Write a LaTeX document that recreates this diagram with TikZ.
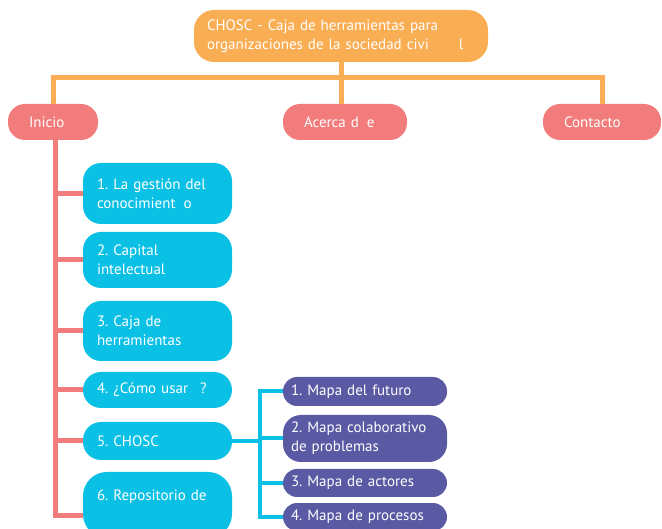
\documentclass[tikz,border=0pt]{standalone}
\usepackage{fontspec}
\setmainfont{PT Sans}
\frenchspacing
\definecolor{chorange}{HTML}{FAAE54}
\definecolor{chpink}{HTML}{F27B7B}
\definecolor{chcyan}{HTML}{0BC0E5}
\definecolor{chpurple}{HTML}{5A59A4}
\begin{document}
\begin{tikzpicture}[x=1pt,y=-1pt,
  every node/.style={font=\fontsize{15}{19}\selectfont,text=white,align=left,inner ysep=0pt},
  toptag/.style={fill=chorange,rounded corners=20pt,inner xsep=13pt,text width=268pt,minimum height=52pt},
  menutag/.style={fill=chpink,rounded corners=17pt,inner xsep=21pt,minimum height=36pt},
  pagetag/.style={fill=chcyan,rounded corners=18pt,inner xsep=14pt,text width=121pt},
  subtag/.style={fill=chpurple,rounded corners=14pt,inner xsep=8pt,text width=148pt},
  orangeline/.style={draw=chorange,line width=5pt},
  pinkline/.style={draw=chpink,line width=5pt},
  cyanline/.style={draw=chcyan,line width=4pt}]
\useasboundingbox (0,0) rectangle (662,529);
\clip (0,0) rectangle (662,529);

% top and menu
\node[toptag] (chosc) at (341,36) {CHOSC - Caja de herramientas para\\organizaciones de la sociedad civi\hspace{30pt}l};
\node[menutag,text width=48pt] (inicio) at (53,122) {Inicio};
\node[menutag,text width=82pt] (acerca) at (345,122) {Acerca d\hspace{8pt}e};
\node[menutag,text width=76pt] (contacto) at (602,122) {Contacto};

% pages under Inicio
\node[pagetag,minimum height=61pt] (p1) at (157.5,193.5) {1. La gestión del\\conocimient\hspace{8pt}o};
\node[pagetag,minimum height=56pt] (p2) at (157.5,260) {2. Capital\\intelectual};
\node[pagetag,minimum height=60pt] (p3) at (157.5,331) {3. Caja de\\herramientas};
\node[pagetag,minimum height=36pt] (p4) at (157.5,390) {4. ¿Cómo usar\hspace{12pt}?};
\node[pagetag,minimum height=38pt] (p5) at (157.5,441) {5. CHOSC};
\node[pagetag,minimum height=66pt,rounded corners=24pt] (p6) at (157.5,505) {6. Repositorio de\\\mbox{}};

% maps under CHOSC
\node[subtag,minimum height=29pt] (m1) at (365,391.5) {1. Mapa del futuro};
\node[subtag,minimum height=47pt,rounded corners=18pt] (m2) at (365,438.5) {2. Mapa colaborativo\\de problemas};
\node[subtag,minimum height=28pt] (m3) at (365,483) {3. Mapa de actores};
\node[subtag,minimum height=28pt] (m4) at (365,517) {4. Mapa de procesos};

\coordinate (bar) at (341,78);
\coordinate (hub) at (260,441);

\draw[orangeline] (chosc.south) -- (bar);
\draw[orangeline] (inicio.north) |- (bar) -| (contacto.north);
\draw[orangeline] (bar) -- (bar |- acerca.north);

\foreach \n in {p1,p2,p3,p4,p5}
  \draw[pinkline] ([xshift=2pt]inicio.south) |- (\n.west);
\draw[pinkline] ([xshift=2pt]inicio.south) |- ([yshift=-10pt]p6.west);

\draw[cyanline] (p5.east) -- (hub);
\draw[cyanline] (m1.west) -| (hub) |- (m4.west);
\draw[cyanline] (hub |- m2.west) -- (m2.west);
\draw[cyanline] (hub) |- (m3.west);
\end{tikzpicture}
\end{document}
